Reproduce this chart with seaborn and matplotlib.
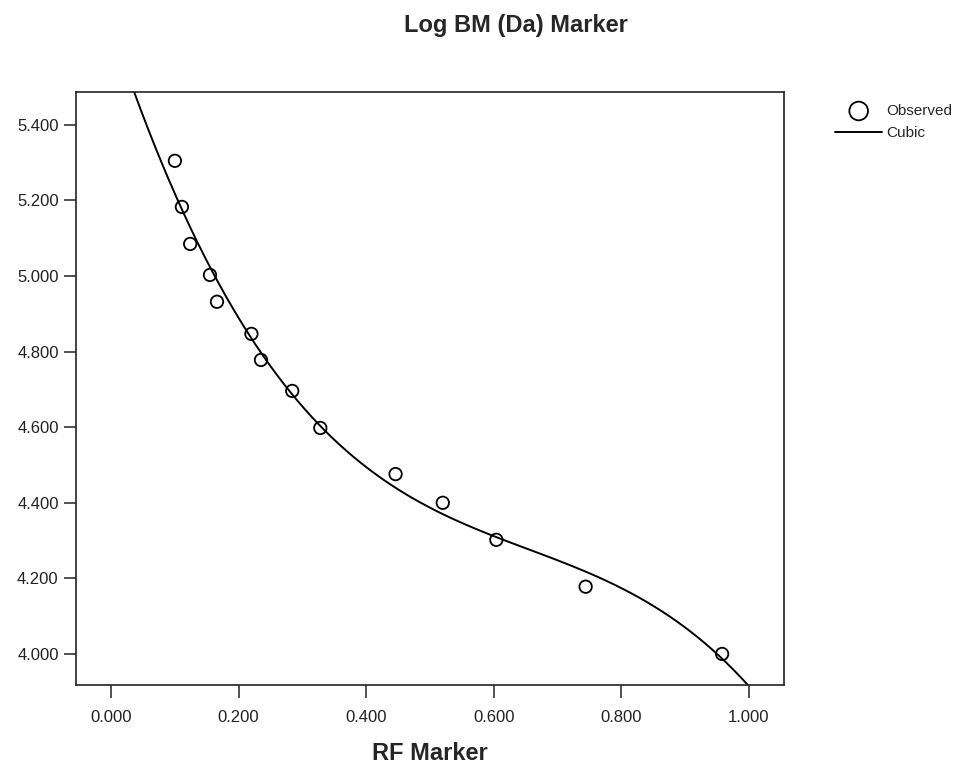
import numpy as np
import pandas as pd
import matplotlib
matplotlib.use("Agg")
import matplotlib.pyplot as plt
import seaborn as sns

# observed markers
rf_marker = [0.100, 0.111, 0.124, 0.155, 0.166, 0.220, 0.235, 0.284,
             0.328, 0.446, 0.520, 0.604, 0.744, 0.958]
log_bm = [5.305, 5.183, 5.085, 5.003, 4.932, 4.847, 4.778, 4.696,
          4.598, 4.476, 4.400, 4.302, 4.178, 4.000]

x_ticks = [0.0, 0.2, 0.4, 0.6, 0.8, 1.0]
y_ticks = [4.0, 4.2, 4.4, 4.6, 4.8, 5.0, 5.2, 5.4]

df = pd.DataFrame({"rf": rf_marker, "logbm": log_bm})

sns.set_style("ticks")
plt.rcParams["font.family"] = ["Liberation Sans", "DejaVu Sans"]

fig = plt.figure(figsize=(9.71, 7.67), dpi=100)
ax = fig.add_axes([0.0783, 0.107, 0.7291, 0.773])
ax.set_xlim(-0.055, 1.055)
ax.set_ylim(3.918, 5.487)

sns.regplot(
    data=df, x="rf", y="logbm", order=3, ci=None, truncate=False,
    color="black", label="Observed", ax=ax,
    scatter_kws=dict(facecolors="none", edgecolors="black", s=80,
                     linewidths=1.3, alpha=1, zorder=3),
    line_kws=dict(color="black", lw=1.4, label="Cubic", zorder=2),
)

ax.set_xticks(x_ticks)
ax.set_yticks(y_ticks)
ax.set_xticklabels([f"{v:.3f}" for v in x_ticks])
ax.set_yticklabels([f"{v:.3f}" for v in y_ticks])
ax.tick_params(axis="both", labelsize=12, length=9, width=1.1, direction="out",
               colors="#222222")
ax.tick_params(axis="x", pad=9)
for s in ax.spines.values():
    s.set_linewidth(1.2)
    s.set_color("#222222")

ax.set_xlabel("RF Marker", fontsize=17, fontweight="bold", labelpad=12)
ax.set_ylabel("")

fig.text(0.531, 0.958, "Log BM (Da) Marker", fontsize=17, fontweight="bold",
         ha="center", va="baseline")

ax.legend(loc="upper left", bbox_to_anchor=(835 / 971, 1 - 104 / 767),
          bbox_transform=fig.transFigure, frameon=False, fontsize=11,
          borderpad=0, borderaxespad=0, handlelength=3.1, handletextpad=0.25,
          labelspacing=0.55, markerscale=1.5)

fig.savefig("out.png", dpi=100)
